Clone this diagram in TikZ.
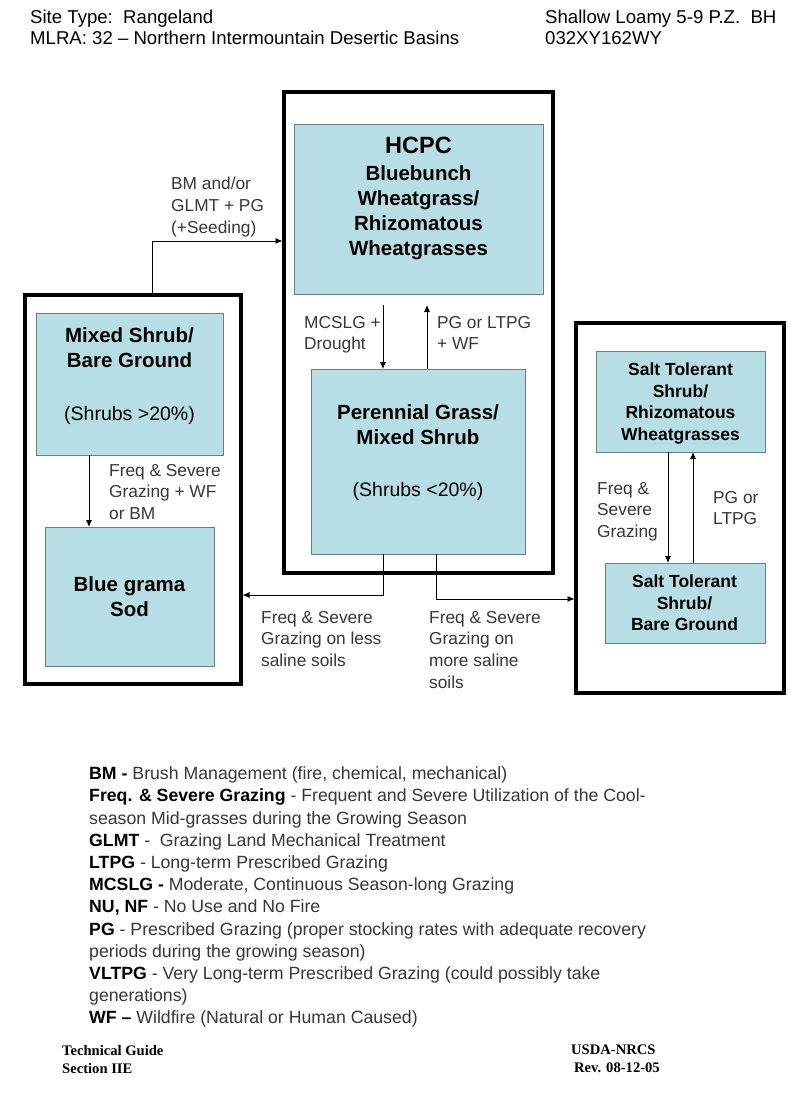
\documentclass[tikz,border=0pt]{standalone}
\usepackage{fontspec}
\setmainfont{Liberation Sans}
\newfontfamily\footfont{Liberation Serif}
\usetikzlibrary{arrows.meta}
\definecolor{boxfill}{RGB}{183,222,228}
\definecolor{boxline}{RGB}{105,125,130}
\definecolor{labeltext}{RGB}{55,55,55}
\newcommand\lgterm[1]{\textcolor{black}{\textbf{#1}}}
\tikzset{
  frame/.style={draw=black, line width=3.5pt, inner sep=0, outer sep=0, anchor=north west},
  statebox/.style={draw=boxline, fill=boxfill, line width=1pt, inner sep=0, outer sep=0, anchor=north west},
  boxtitle/.style={font=\fontsize{20.5}{25}\selectfont\bfseries, align=center, anchor=north, inner sep=0},
  smalltitle/.style={font=\fontsize{17.5}{21.7}\selectfont\bfseries, align=center, anchor=north, inner sep=0},
  trans/.style={font=\fontsize{17.3}{21.7}\selectfont, text=labeltext, align=left, anchor=north west, inner sep=0},
  arr/.style={draw=black, line width=0.9pt, -{Latex[length=7pt,width=6pt]}},
  hdr/.style={font=\fontsize{18.6}{21}\selectfont, align=left, anchor=north west, inner sep=0},
  legendtext/.style={font=\fontsize{17.7}{22.2}\selectfont, text=labeltext, align=left, anchor=north west, inner sep=0},
  foot/.style={font=\footfont\bfseries\fontsize{14.6}{18}\selectfont, align=left, anchor=north west, inner sep=0}
}
\begin{document}
\begin{tikzpicture}[x=1pt, y=-1pt]
\useasboundingbox[fill=white] (0,0) rectangle (800,1108);

% header
\node[hdr] (hdrL) at (30,10) {Site Type:\ \ Rangeland\\MLRA: 32 -- Northern Intermountain Desertic Basins};
\node[hdr] (hdrR) at (545,10) {Shallow Loamy 5-9 P.Z.\ \ BH\\032XY162WY};

% frames
\node[frame, minimum width=269pt, minimum height=481pt] (cframe) at (284,92) {};
\node[frame, minimum width=216pt, minimum height=389pt] (lframe) at (25,295) {};
\node[frame, minimum width=208pt, minimum height=370pt] (rframe) at (576,323) {};

% state boxes
\node[statebox, minimum width=249pt, minimum height=170pt] (hcpc) at (294,124) {};
\node[statebox, minimum width=187pt, minimum height=142pt] (mixed) at (36,313) {};
\node[statebox, minimum width=214pt, minimum height=185pt] (perennial) at (311,369) {};
\node[statebox, minimum width=169pt, minimum height=139pt] (bluegrama) at (45,527) {};
\node[statebox, minimum width=169pt, minimum height=101pt] (salttop) at (596,351) {};
\node[statebox, minimum width=160pt, minimum height=80pt] (saltbot) at (605,563) {};

% box texts
\node[boxtitle] (hcpct) at (418.5,137) {{\fontsize{23.5}{28}\selectfont HCPC}\\[2pt]Bluebunch\\Wheatgrass/\\Rhizomatous\\Wheatgrasses};
\node[boxtitle] (mixedt) at (129.5,327.7) {Mixed Shrub/\\Bare Ground\\[27.5pt]{\mdseries\fontsize{19.5}{25}\selectfont (Shrubs >20\%)}};
\node[boxtitle] (perennialt) at (418,404.7) {Perennial Grass/\\Mixed Shrub\\[27pt]{\mdseries\fontsize{19.5}{25}\selectfont (Shrubs <20\%)}};
\node[boxtitle] (bluegramat) at (129.5,576.7) {Blue grama\\Sod};
\node[smalltitle] (salttopt) at (680.5,362.7) {Salt Tolerant\\Shrub/\\Rhizomatous\\Wheatgrasses};
\node[smalltitle] (saltbott) at (684.5,574.7) {Salt Tolerant\\Shrub/\\Bare Ground};

% connector helper coordinates
\coordinate (j3) at (152,241);
\coordinate (k0) at (89,0);
\coordinate (k3) at (383,305);
\coordinate (k4) at (427,305);
\coordinate (j1) at (383,595);
\coordinate (j2) at (436,599);
\coordinate (k1) at (668,0);
\coordinate (k2) at (693,0);

% connectors
\draw[arr] (lframe.north -| j3) -- (j3) -- ([xshift=-1.5pt]j3 -| cframe.west);
\draw[arr] (mixed.south -| k0) -- (bluegrama.north -| k0);
\draw[arr] (k3) -- (perennial.north -| k3);
\draw[arr] (perennial.north -| k4) -- (k4);
\draw[arr] (perennial.south -| j1) -- (j1) -- ([xshift=1.5pt]j1 -| lframe.east);
\draw[arr] (perennial.south -| j2) -- (j2) -- ([xshift=-1.5pt]j2 -| rframe.west);
\draw[arr] (salttop.south -| k1) -- (saltbot.north -| k1);
\draw[arr] (saltbot.north -| k2) -- (salttop.south -| k2);

% transition labels
\node[trans] (lbBM) at (171,177) {BM and/or\\GLMT + PG\\(+Seeding)};
\node[trans] (lbMC) at (304,316) {MCSLG +\\Drought};
\node[trans] (lbPG) at (437,316) {PG or LTPG\\+ WF};
\node[trans] (lbFS1) at (109,464) {Freq \& Severe\\Grazing + WF\\or BM};
\node[trans] (lbFS2) at (597,482) {Freq \&\\Severe\\Grazing};
\node[trans] (lbPG2) at (713,491) {PG or\\LTPG};
\node[trans] (lbLess) at (261,611) {Freq \& Severe\\Grazing on less\\saline soils};
\node[trans] (lbMore) at (429,611) {Freq \& Severe\\Grazing on\\more saline\\soils};

% legend
\node[legendtext] (legend) at (89,766.7) {\lgterm{BM -} Brush Management (fire, chemical, mechanical)\\
\lgterm{Freq. \& Severe Grazing} - Frequent and Severe Utilization of the Cool-\\
season Mid-grasses during the Growing Season\\
\lgterm{GLMT} - \ Grazing Land Mechanical Treatment\\
\lgterm{LTPG} - Long-term Prescribed Grazing\\
\lgterm{MCSLG -} Moderate, Continuous Season-long Grazing\\
\lgterm{NU, NF} - No Use and No Fire\\
\lgterm{PG} - Prescribed Grazing (proper stocking rates with adequate recovery\\
periods during the growing season)\\
\lgterm{VLTPG} - Very Long-term Prescribed Grazing (could possibly take\\
generations)\\
\lgterm{WF --} Wildfire (Natural or Human Caused)};

% footer
\node[foot] (footL) at (62,1045) {Technical Guide\\Section IIE};
\node[foot] (footR) at (571,1045) {USDA-NRCS\\\hspace*{3pt}Rev. 08-12-05};
\end{tikzpicture}
\end{document}
